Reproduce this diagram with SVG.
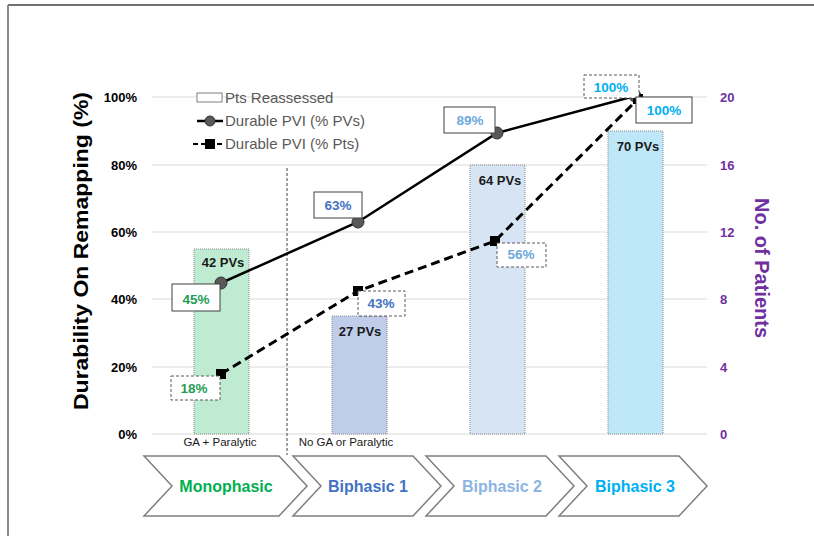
<svg xmlns="http://www.w3.org/2000/svg" width="814" height="536" viewBox="0 0 814 536">
<style>
text{font-family:"Liberation Sans",Arial,sans-serif}
.grid{stroke:#d9d9d9;stroke-width:1}
.lt{font-size:13px;font-weight:bold;fill:#000;text-anchor:end}
.rt{font-size:13px;font-weight:bold;fill:#7030A0}
.bar{stroke:#8a8a8a;stroke-width:1;stroke-dasharray:1 1}
.bl{font-size:13px;font-weight:bold;fill:#1a1a1a;text-anchor:middle}
.sb{fill:#fff;stroke:#404040;stroke-width:1}
.db{fill:#fff;stroke:#595959;stroke-width:1;stroke-dasharray:3 2}
.pl{font-size:13.5px;font-weight:bold;text-anchor:middle}
.leg{font-size:15px;fill:#595959}
.chev{fill:#fff;stroke:#7f7f7f;stroke-width:1.5}
.ct{font-size:16px;font-weight:bold;text-anchor:middle}
.sub{font-size:11.5px;fill:#1a1a1a;text-anchor:middle}
.circ{fill:#595959;stroke:#333;stroke-width:1}
</style>
<defs>
<rect id="sq" x="-5" y="-5" width="10" height="10" fill="#000"/>
</defs>
<!-- frame -->
<line x1="8" y1="5" x2="814" y2="5" stroke="#404040" stroke-width="1.5"/>
<line x1="8" y1="5" x2="8" y2="536" stroke="#8a8a8a" stroke-width="2"/>
<!-- gridlines -->
<g id="grid">
<line class="grid" x1="152" y1="97" x2="707" y2="97"/>
<line class="grid" x1="152" y1="165" x2="707" y2="165"/>
<line class="grid" x1="152" y1="232" x2="707" y2="232"/>
<line class="grid" x1="152" y1="299" x2="707" y2="299"/>
<line class="grid" x1="152" y1="367" x2="707" y2="367"/>
<line class="grid" x1="152" y1="434" x2="707" y2="434"/>
</g>
<!-- left axis -->
<g id="left-axis">
<text class="lt" x="137" y="102">100%</text>
<text class="lt" x="137" y="170">80%</text>
<text class="lt" x="137" y="237">60%</text>
<text class="lt" x="137" y="304">40%</text>
<text class="lt" x="137" y="372">20%</text>
<text class="lt" x="137" y="439">0%</text>
<text transform="translate(88,251) rotate(-90)" text-anchor="middle" font-size="21" font-weight="bold" fill="#000" textLength="318" lengthAdjust="spacingAndGlyphs">Durability On Remapping (%)</text>
</g>
<!-- right axis -->
<g id="right-axis">
<text class="rt" x="720" y="102">20</text>
<text class="rt" x="720" y="170">16</text>
<text class="rt" x="720" y="237">12</text>
<text class="rt" x="720" y="304">8</text>
<text class="rt" x="720" y="372">4</text>
<text class="rt" x="720" y="439">0</text>
<text transform="translate(755,268) rotate(90)" text-anchor="middle" font-size="20" font-weight="bold" fill="#7030A0">No. of Patients</text>
</g>
<!-- bars -->
<g id="bar-monophasic"><rect class="bar" x="194" y="249" width="55" height="185" fill="#BFEBD2"/><text class="bl" x="223" y="267">42 PVs</text></g>
<g id="bar-biphasic1"><rect class="bar" x="332" y="316" width="55" height="118" fill="#BFCDEA"/><text class="bl" x="360" y="336">27 PVs</text></g>
<g id="bar-biphasic2"><rect class="bar" x="470" y="165" width="55" height="269" fill="#D6E4F3"/><text class="bl" x="500" y="185">64 PVs</text></g>
<g id="bar-biphasic3"><rect class="bar" x="608" y="131" width="55" height="303" fill="#BEE8F8"/><text class="bl" x="638" y="151">70 PVs</text></g>
<!-- separator -->
<line x1="287" y1="168" x2="287" y2="455" stroke="#404040" stroke-width="1" stroke-dasharray="3 2"/>
<text class="sub" x="220" y="446">GA + Paralytic</text>
<text class="sub" x="346" y="446">No GA or Paralytic</text>
<!-- connectors (series lines) -->
<g id="connectors">
<polyline points="221,283 358,222 497,133 635,96" fill="none" stroke="#000" stroke-width="2.5"/>
<polyline points="221,374 358,291 495,241 638,99" fill="none" stroke="#000" stroke-width="3" stroke-dasharray="9 5"/>
</g>
<!-- markers -->
<g id="markers">
<circle class="circ" cx="221" cy="283" r="6"/>
<circle class="circ" cx="358" cy="222" r="6"/>
<circle class="circ" cx="497" cy="133" r="6"/>
<circle class="circ" cx="635" cy="96" r="6"/>
<use href="#sq" x="221" y="374"/>
<use href="#sq" x="358" y="291"/>
<use href="#sq" x="495" y="241"/>
<use href="#sq" x="638" y="99"/>
</g>
<!-- data labels -->
<g id="lbl-45"><rect class="sb" x="172" y="284" width="48" height="27"/><text class="pl" x="196" y="304" fill="#1F9D55">45%</text></g>
<g id="lbl-18"><rect class="db" x="171" y="376" width="49" height="24"/><text class="pl" x="194" y="393" fill="#1F9D55">18%</text></g>
<g id="lbl-63"><rect class="sb" x="314" y="192" width="48" height="26"/><text class="pl" x="338" y="210" fill="#4472C4">63%</text></g>
<g id="lbl-43"><rect class="db" x="358" y="291" width="47" height="25"/><text class="pl" x="381" y="308" fill="#4472C4">43%</text></g>
<g id="lbl-89"><rect class="sb" x="444" y="107" width="51" height="26"/><text class="pl" x="470" y="125" fill="#6FA8DC">89%</text></g>
<g id="lbl-56"><rect class="db" x="497" y="243" width="49" height="24"/><text class="pl" x="521" y="259" fill="#6FA8DC">56%</text></g>
<g id="lbl-100a"><rect class="db" x="584" y="75" width="55" height="23"/><text class="pl" x="611" y="92" fill="#00B0F0">100%</text></g>
<g id="lbl-100b"><rect class="sb" x="636" y="97" width="56" height="26"/><text class="pl" x="664" y="115" fill="#00B0F0">100%</text></g>
<!-- legend -->
<g id="legend">
<rect x="197" y="93" width="25" height="9" fill="#fff" stroke="#7f7f7f" stroke-width="1"/>
<text class="leg" x="225" y="103">Pts Reassessed</text>
<line x1="197" y1="121" x2="223" y2="121" stroke="#000" stroke-width="2.5"/>
<circle class="circ" cx="210" cy="121" r="5"/>
<text class="leg" x="225" y="126">Durable PVI (% PVs)</text>
<line x1="193" y1="144" x2="223" y2="144" stroke="#000" stroke-width="2" stroke-dasharray="5 3"/>
<rect x="205" y="139" width="10" height="10" fill="#000"/>
<text class="leg" x="225" y="149">Durable PVI (% Pts)</text>
</g>
<!-- chevrons -->
<g id="chev-monophasic"><polygon class="chev" points="144,456 279,456 307,486 279,516 144,516 172,486"/><text class="ct" x="226" y="492" fill="#00B050">Monophasic</text></g>
<g id="chev-biphasic1"><polygon class="chev" points="293,456 413,456 441,486 413,516 293,516 321,486"/><text class="ct" x="368" y="492" fill="#4472C4">Biphasic 1</text></g>
<g id="chev-biphasic2"><polygon class="chev" points="426,456 546,456 574,486 546,516 426,516 454,486"/><text class="ct" x="502" y="492" fill="#8DB4E2">Biphasic 2</text></g>
<g id="chev-biphasic3"><polygon class="chev" points="559,456 679,456 707,486 679,516 559,516 587,486"/><text class="ct" x="635" y="492" fill="#00B0F0">Biphasic 3</text></g>
</svg>
